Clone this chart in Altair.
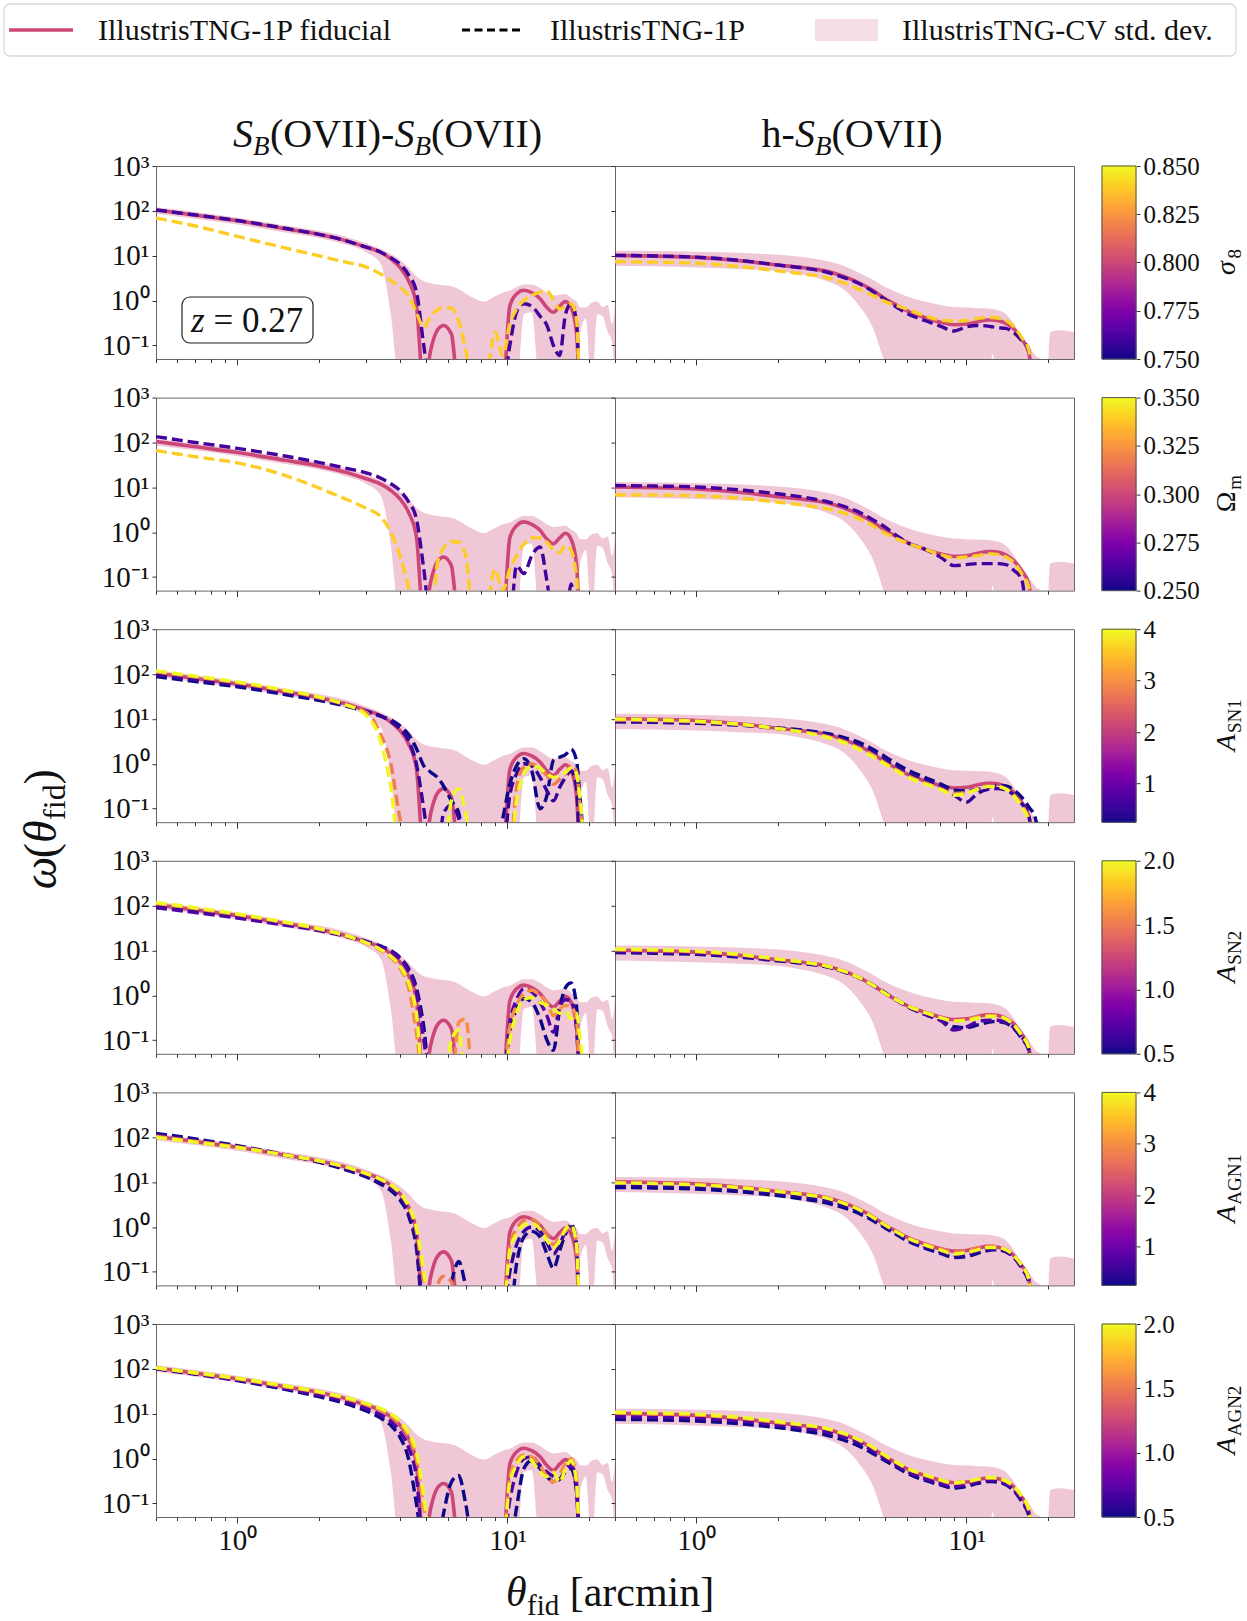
import altair as alt
import pandas as pd

B = 0.01  # value below the plotted range (correlation vanishing / negative)

# ---------------- angular grids (arcmin) ----------------
L_X = [0.5, 0.7, 1.0, 1.5, 2.0, 2.5, 3.0, 3.4, 3.7, 4.0,
       4.3, 4.6, 4.9, 5.2, 5.5, 5.8, 6.2, 6.6, 7.0, 7.5,
       8.2, 9.0, 9.6, 10.2, 10.8, 11.5, 12.3, 13.2, 14.0, 14.8,
       15.6, 16.4, 17.2, 18.0, 18.6, 19.5, 20.5, 21.5, 22.5, 23.5,
       24.4, 25.0]
R_X = [0.5, 0.7, 1.0, 1.5, 2.0, 2.5, 3.0, 3.5, 4.0, 4.5,
       5.0, 5.5, 6.0, 7.0, 8.0, 9.0, 10.0, 11.0, 12.0, 12.5,
       13.0, 14.0, 15.0, 16.0, 17.0, 18.0, 19.0, 19.8, 20.4, 22.0,
       25.0]

# ---------------- S_B - S_B (left column) ----------------
FID_L = [105, 80, 60, 40, 30, 22, 15.5, 11.8, 8.5, 5.5,
         2.8, 0.8, B, 0.08, 0.22, 0.28, 0.18, B, B, B,
         B, B, B, 0.75, 1.4, 1.7, 1.5, 1.1, 0.7, 0.55,
         0.75, 0.95, 0.7, 0.2, B, B, B, B, B, B,
         B, B]
BAND_L_HI = [120, 94, 70, 47, 36, 27, 19, 14, 11, 8,
             5.5, 3.5, 2.7, 2.45, 2.3, 2.2, 2.1, 1.8, 1.45, 1.15,
             0.95, 1.25, 1.5, 1.65, 2.0, 2.3, 2.3, 1.9, 1.5, 1.3,
             1.35, 1.4, 1.15, 0.95, 0.7, 0.7, 0.9, 0.95, 0.72, 0.8,
             0.3, 0.85]
BAND_L_LO = [86, 67, 50, 33, 25, 18, 12, 6.5, 0.5, B,
             B, B, B, B, B, B, B, B, B, B,
             B, B, B, B, B, 0.5, 0.55, B, B, B,
             B, B, B, B, 0.2, 0.4, B, 0.5, 0.45, 0.2,
             0.12, B]

S8_L_076 = [105, 81, 61, 41, 30, 22, 15.5, 12, 9, 6.5,
            3.8, 1.6, 0.1, B, B, B, B, B, B, B,
            B, B, B, 0.1, 0.55, 0.85, 0.75, 0.45, 0.28, 0.1,
            0.06, 0.5, 0.85, 0.35, B, B, B, B, B, B,
            B, B]
S8_L_084 = [69, 46, 27, 15, 10, 7.3, 5.6, 3.9, 2.8, 2.0,
            1.3, 0.55, 0.25, 0.45, 0.62, 0.7, 0.68, 0.35, 0.08, B,
            B, 0.2, 0.06, 0.3, 0.65, 1.0, 1.3, 1.55, 1.6, 1.05,
            0.65, 0.75, 0.85, 0.4, B, B, B, B, B, B,
            B, B]
OM_L_026 = [135, 100, 74, 50, 36, 27, 21, 16, 12, 8.5,
            4.8, 2.0, 0.15, B, B, B, B, B, B, B,
            B, B, B, B, 0.18, 0.12, 0.3, 0.47, 0.08, B,
            B, B, 0.07, B, B, B, B, B, B, B,
            B, B]
OM_L_034 = [66, 48, 35, 18.5, 9.7, 5.6, 3.4, 2.2, 1.0, 0.3,
            0.06, B, B, B, 0.2, 0.45, 0.62, 0.6, 0.3, B,
            B, 0.15, 0.05, 0.15, 0.3, 0.55, 0.75, 0.75, 0.6, 0.4,
            0.35, 0.5, 0.4, 0.1, B, B, B, B, B, B,
            B, B]
SN1_L_025 = [88, 68, 52, 35, 26, 19.5, 14.5, 11.5, 9.5, 7.0,
             4.5, 2.2, 0.9, 0.65, 0.5, 0.32, 0.15, 0.08, B, B,
             B, B, 0.06, 0.35, 0.9, 1.3, 0.7, 0.1, 0.2, 1.2,
             1.4, 1.6, 2.1, 1.2, 0.15, B, B, B, B, B,
             B, B]
SN1_L_05 = [95, 74, 56, 38, 28, 20.5, 15, 11.5, 8.8, 6.0,
            3.3, 1.0, 0.1, B, B, 0.08, 0.12, 0.06, B, B,
            B, B, B, 0.2, 0.6, 1.0, 0.9, 0.5, 0.25, 0.15,
            0.3, 0.5, 0.7, 0.3, B, B, B, B, B, B,
            B, B]
SN1_L_28 = [112, 86, 64, 42, 30, 21, 14, 4.5, 1.0, 0.06,
            B, B, B, B, B, B, B, B, B, B,
            B, B, B, B, 0.3, 0.85, 1.0, 0.75, 0.55, 0.35,
            0.45, 0.6, 0.9, 0.7, 0.1, B, B, B, B, B,
            B, B]
SN1_L_4 = [118, 90, 67, 44, 31, 21, 12, 3.0, 0.3, B,
           B, B, B, B, B, B, 0.15, 0.28, 0.08, B,
           B, B, B, B, 0.15, 0.6, 0.9, 0.8, 0.6, 0.5,
           0.55, 0.65, 0.8, 0.6, 0.15, B, B, B, B, B,
           B, B]
SN2_L_05 = [95, 74, 56, 38, 29, 21.5, 16, 12.5, 10, 7,
            4, 1.5, 0.2, B, B, B, B, B, B, B,
            B, B, B, 0.15, 0.5, 0.85, 0.7, 0.3, 0.1, 0.06,
            0.5, 1.5, 1.9, 0.6, B, B, B, B, B, B,
            B, B]
SN2_L_07 = [90, 70, 53, 37, 28, 21, 15.5, 12, 9.5, 6.5,
            3.5, 1.2, 0.1, B, B, B, B, B, B, B,
            B, B, B, 0.25, 0.8, 1.4, 1.2, 0.7, 0.35, 0.15,
            0.55, 0.8, 0.75, 0.2, B, B, B, B, B, B,
            B, B]
SN2_L_16 = [112, 86, 63, 42, 30, 21.5, 14.5, 10, 7.0, 4.0,
            1.5, 0.15, B, B, B, B, B, 0.25, 0.3, B,
            B, B, B, 0.2, 0.6, 1.1, 1.3, 1.0, 0.7, 0.35,
            0.5, 0.6, 0.55, 0.3, B, B, B, B, B, B,
            B, B]
SN2_L_2 = [118, 90, 66, 43, 31, 22, 15, 10.5, 7.5, 4.5,
           2.0, 0.4, B, B, B, B, 0.1, 0.17, B, B,
           B, B, B, 0.1, 0.4, 0.8, 0.9, 0.7, 0.6, 0.5,
           0.4, 0.45, 0.3, 0.4, 0.1, B, B, B, B, B,
           B, B]
AGN1_L_025 = [122, 92, 65, 41, 28, 19, 13, 9.0, 6.5, 4.0,
              1.8, 0.35, B, B, B, B, 0.06, 0.17, 0.05, B,
              B, B, B, B, 0.15, 0.6, 0.8, 0.6, 0.25, 0.12,
              0.3, 0.7, 1.2, 0.4, B, B, B, B, B, B,
              B, B]
AGN1_L_05 = [115, 87, 62, 40, 28.5, 20, 13.5, 10, 7.3, 4.6,
             2.2, 0.5, B, B, B, B, B, B, B, B,
             B, B, B, 0.1, 0.4, 0.8, 1.0, 0.8, 0.45, 0.25,
             0.4, 0.8, 1.0, 0.4, B, B, B, B, B, B,
             B, B]
AGN1_L_28 = [106, 81, 61, 41, 30, 22, 15.5, 11.5, 8.5, 5.5,
             2.8, 0.8, 0.06, B, 0.05, 0.08, 0.06, B, B, B,
             B, B, B, 0.4, 0.9, 1.4, 1.5, 1.1, 0.7, 0.4,
             0.6, 0.8, 1.0, 0.5, B, B, B, B, B, B,
             B, B]
AGN1_L_4 = [100, 78, 59, 40, 30, 22, 15.5, 11.5, 8.8, 5.8,
            3.0, 1.0, 0.1, B, B, B, B, B, B, B,
            B, B, B, 0.3, 0.7, 1.1, 1.2, 0.9, 0.5, 0.35,
            0.5, 0.9, 1.1, 0.4, B, B, B, B, B, B,
            B, B]
AGN2_L_05 = [100, 76, 55, 35, 24, 17, 11.5, 8, 5.5, 3.0,
             1.0, 0.1, B, B, B, 0.06, 0.3, 0.42, 0.1, B,
             B, B, B, B, 0.08, 0.6, 0.9, 0.6, 0.4, 0.3,
             0.35, 0.5, 0.6, 0.2, B, B, B, B, B, B,
             B, B]
AGN2_L_07 = [102, 78, 57, 37, 26, 19, 13, 9.5, 6.8, 4.0,
             1.8, 0.4, B, B, B, B, B, B, B, B,
             B, B, B, 0.12, 0.5, 1.0, 1.1, 0.7, 0.5, 0.4,
             0.35, 0.6, 0.7, 0.3, B, B, B, B, B, B,
             B, B]
AGN2_L_16 = [105, 80, 60, 40, 30, 22, 16, 12, 9.0, 6.0,
             3.2, 1.0, 0.08, B, B, B, B, B, B, B,
             B, B, B, 0.4, 0.9, 1.2, 1.1, 0.7, 0.4, 0.3,
             0.45, 0.8, 1.0, 0.4, B, B, B, B, B, B,
             B, B]
AGN2_L_2 = [106, 82, 62, 42, 31, 23, 17, 13, 10, 6.8,
            3.8, 1.4, 0.15, B, B, B, B, B, B, B,
            B, B, B, 0.3, 0.7, 1.1, 0.9, 0.5, 0.4, 0.5,
            0.3, 0.6, 0.9, 0.3, B, B, B, B, B, B,
            B, B]

# ---------------- h - S_B (right column) ----------------
FID_R = [10.2, 9.8, 9.2, 7.6, 6.2, 5.4, 4.6, 3.5, 2.5, 1.7,
         1.1, 0.8, 0.6, 0.42, 0.33, 0.29, 0.3, 0.34, 0.37, 0.37,
         0.36, 0.31, 0.23, 0.14, 0.07, B, B, B, B, B,
         B]
BAND_R_HI = [13, 12.8, 12.3, 11.5, 10.5, 9.2, 7.7, 6.0, 4.2, 2.9,
             2.0, 1.55, 1.25, 0.95, 0.8, 0.72, 0.7, 0.68, 0.67, 0.65,
             0.62, 0.5, 0.3, 0.15, 0.1, 0.06, 0.048, B, 0.2, 0.22,
             0.2]
BAND_R_LO = [6.0, 5.8, 5.5, 5.0, 4.6, 3.7, 2.8, 1.8, 0.78, 0.25,
             0.04, B, B, B, B, B, B, B, B, 0.065,
             B, B, B, B, B, B, B, B, B, B,
             B]

S8_R_076 = [10.2, 9.9, 9.3, 7.7, 6.2, 5.3, 4.4, 3.3, 2.4, 1.6,
            1.05, 0.72, 0.52, 0.36, 0.27, 0.21, 0.26, 0.28, 0.27, 0.26,
            0.25, 0.24, 0.19, 0.13, 0.08, B, B, B, B, B,
            B]
S8_R_084 = [7.4, 7.2, 6.8, 5.6, 4.6, 3.9, 3.3, 2.5, 1.8, 1.3,
            0.95, 0.78, 0.65, 0.46, 0.37, 0.35, 0.36, 0.4, 0.42, 0.42,
            0.41, 0.36, 0.26, 0.15, 0.08, B, B, B, B, B,
            B]
OM_R_026 = [11, 10.7, 10.2, 8.6, 7.2, 6.0, 4.9, 3.8, 2.8, 1.9,
            1.3, 0.85, 0.6, 0.42, 0.28, 0.18, 0.19, 0.2, 0.2, 0.2,
            0.2, 0.19, 0.14, 0.09, B, B, B, B, B, B,
            B]
OM_R_034 = [6.8, 6.7, 6.5, 5.6, 4.7, 4.0, 3.4, 2.7, 2.0, 1.4,
            0.95, 0.72, 0.58, 0.42, 0.32, 0.27, 0.28, 0.3, 0.33, 0.33,
            0.32, 0.28, 0.21, 0.12, 0.06, B, B, B, B, B,
            B]
SN1_R_025 = [8.6, 8.4, 8.0, 7.2, 6.3, 5.6, 4.8, 3.9, 3.0, 2.1,
             1.45, 1.0, 0.75, 0.5, 0.36, 0.26, 0.25, 0.27, 0.3, 0.32,
             0.33, 0.32, 0.26, 0.18, 0.11, 0.06, B, B, B, B,
             B]
SN1_R_05 = [9.0, 8.7, 8.2, 7.2, 6.1, 5.2, 4.4, 3.5, 2.6, 1.8,
            1.2, 0.85, 0.62, 0.42, 0.3, 0.2, 0.14, 0.22, 0.27, 0.28,
            0.28, 0.26, 0.2, 0.13, 0.07, B, B, B, B, B,
            B]
SN1_R_28 = [9.5, 9.2, 8.6, 7.4, 6.1, 5.1, 4.2, 3.2, 2.3, 1.6,
            1.05, 0.75, 0.56, 0.38, 0.28, 0.22, 0.23, 0.28, 0.32, 0.32,
            0.32, 0.28, 0.2, 0.12, 0.06, B, B, B, B, B,
            B]
SN1_R_4 = [10, 9.6, 8.9, 7.5, 6.1, 5.0, 4.0, 3.0, 2.1, 1.45,
           0.98, 0.7, 0.52, 0.36, 0.27, 0.2, 0.22, 0.27, 0.31, 0.31,
           0.31, 0.27, 0.19, 0.11, 0.055, B, B, B, B, B,
           B]
SN2_R_05 = [9.0, 8.7, 8.2, 7.0, 5.9, 5.1, 4.4, 3.4, 2.5, 1.7,
            1.15, 0.8, 0.58, 0.38, 0.28, 0.2, 0.19, 0.22, 0.25, 0.26,
            0.26, 0.24, 0.18, 0.11, 0.06, B, B, B, B, B,
            B]
SN2_R_07 = [9.5, 9.2, 8.7, 7.3, 6.1, 5.3, 4.5, 3.4, 2.45, 1.65,
            1.1, 0.78, 0.57, 0.38, 0.28, 0.17, 0.2, 0.26, 0.28, 0.28,
            0.28, 0.25, 0.19, 0.12, 0.06, B, B, B, B, B,
            B]
SN2_R_16 = [10.4, 10, 9.4, 7.8, 6.4, 5.5, 4.6, 3.5, 2.5, 1.7,
            1.1, 0.8, 0.6, 0.42, 0.32, 0.27, 0.29, 0.33, 0.36, 0.36,
            0.35, 0.3, 0.22, 0.13, 0.07, B, B, B, B, B,
            B]
SN2_R_2 = [10.8, 10.4, 9.7, 8.0, 6.5, 5.5, 4.6, 3.5, 2.5, 1.7,
           1.1, 0.8, 0.6, 0.42, 0.32, 0.27, 0.28, 0.31, 0.34, 0.34,
           0.34, 0.3, 0.22, 0.13, 0.07, B, B, B, B, B,
           B]
AGN1_R_025 = [7.6, 7.4, 7.0, 6.0, 5.0, 4.2, 3.5, 2.7, 2.0, 1.4,
              0.95, 0.68, 0.5, 0.34, 0.26, 0.21, 0.22, 0.26, 0.3, 0.31,
              0.31, 0.28, 0.21, 0.13, 0.07, B, B, B, B, B,
              B]
AGN1_R_05 = [8.8, 8.5, 8.0, 6.9, 5.7, 4.9, 4.1, 3.1, 2.3, 1.55,
             1.05, 0.75, 0.55, 0.37, 0.28, 0.23, 0.24, 0.28, 0.32, 0.32,
             0.32, 0.28, 0.21, 0.12, 0.06, B, B, B, B, B,
             B]
AGN1_R_28 = [10, 9.6, 9.0, 7.6, 6.3, 5.4, 4.6, 3.5, 2.5, 1.7,
             1.12, 0.8, 0.6, 0.42, 0.33, 0.28, 0.3, 0.34, 0.37, 0.37,
             0.36, 0.31, 0.23, 0.14, 0.07, B, B, B, B, B,
             B]
AGN1_R_4 = [9.6, 9.3, 8.7, 7.4, 6.2, 5.3, 4.5, 3.4, 2.45, 1.65,
            1.1, 0.78, 0.58, 0.4, 0.31, 0.25, 0.27, 0.31, 0.35, 0.35,
            0.35, 0.31, 0.23, 0.14, 0.07, B, B, B, B, B,
            B]
AGN2_R_05 = [7.5, 7.3, 6.9, 5.9, 4.9, 4.1, 3.4, 2.6, 1.9, 1.3,
             0.9, 0.65, 0.48, 0.33, 0.26, 0.22, 0.24, 0.28, 0.31, 0.31,
             0.3, 0.26, 0.19, 0.11, 0.055, B, B, B, B, B,
             B]
AGN2_R_07 = [8.7, 8.4, 7.9, 6.8, 5.6, 4.8, 4.0, 3.1, 2.25, 1.5,
             1.0, 0.72, 0.53, 0.36, 0.28, 0.24, 0.26, 0.3, 0.33, 0.33,
             0.32, 0.28, 0.2, 0.12, 0.06, B, B, B, B, B,
             B]
AGN2_R_16 = [10.3, 9.9, 9.3, 7.8, 6.4, 5.5, 4.7, 3.6, 2.6, 1.75,
             1.15, 0.82, 0.61, 0.43, 0.33, 0.28, 0.3, 0.34, 0.37, 0.37,
             0.36, 0.31, 0.23, 0.14, 0.07, B, B, B, B, B,
             B]
AGN2_R_2 = [10.8, 10.4, 9.8, 8.2, 6.7, 5.7, 4.8, 3.7, 2.65, 1.8,
            1.18, 0.84, 0.62, 0.44, 0.34, 0.29, 0.31, 0.35, 0.38, 0.38,
            0.37, 0.32, 0.24, 0.15, 0.075, B, B, B, B, B,
            B]

# ---------------- parameters per row ----------------
ROW_PARAMS = [[0.76, 0.84], [0.26, 0.34], [0.25, 0.5, 2.8, 4.0],
              [0.5, 0.7, 1.6, 2.0], [0.25, 0.5, 2.8, 4.0], [0.5, 0.7, 1.6, 2.0]]
ROW_DOMAINS = [[0.75, 0.85], [0.25, 0.35], [0.25, 4.0], [0.5, 2.0], [0.25, 4.0], [0.5, 2.0]]
ROW_TICKS = [[0.75, 0.775, 0.8, 0.825, 0.85], [0.25, 0.275, 0.3, 0.325, 0.35],
             [1, 2, 3, 4], [0.5, 1.0, 1.5, 2.0], [1, 2, 3, 4], [0.5, 1.0, 1.5, 2.0]]
ROW_FORMATS = [".3f", ".3f", "d", ".1f", "d", ".1f"]
ROW_LEFT = [[S8_L_076, S8_L_084], [OM_L_026, OM_L_034],
            [SN1_L_025, SN1_L_05, SN1_L_28, SN1_L_4],
            [SN2_L_05, SN2_L_07, SN2_L_16, SN2_L_2],
            [AGN1_L_025, AGN1_L_05, AGN1_L_28, AGN1_L_4],
            [AGN2_L_05, AGN2_L_07, AGN2_L_16, AGN2_L_2]]
ROW_RIGHT = [[S8_R_076, S8_R_084], [OM_R_026, OM_R_034],
             [SN1_R_025, SN1_R_05, SN1_R_28, SN1_R_4],
             [SN2_R_05, SN2_R_07, SN2_R_16, SN2_R_2],
             [AGN1_R_025, AGN1_R_05, AGN1_R_28, AGN1_R_4],
             [AGN2_R_05, AGN2_R_07, AGN2_R_16, AGN2_R_2]]
# colour-bar labels: (main symbol, style, subscript)
ROW_LABELS = [("σ", "italic", "8"), ("Ω", "normal", "m"), ("A", "italic", "SN1"),
              ("A", "italic", "SN2"), ("A", "italic", "AGN1"), ("A", "italic", "AGN2")]

# ---------------- style ----------------
SERIF = "Liberation Serif"
PINK = "#cc4778"
W, H = 459, 193
CB_GAP, CB_W = 28, 34          # colour-bar offset from the panel and its thickness
CB_STEPS = 96                  # number of slices used to paint each colour bar
XSCALE = alt.Scale(type="log", domain=[0.5, 25], nice=False)
YSCALE = alt.Scale(type="log", domain=[0.05, 1000], nice=False)
X_TICKS = [0.5, 0.6, 0.7, 0.8, 0.9, 1, 2, 3, 4, 5, 6, 7, 8, 9, 10, 20]
Y_TICKS = [0.1, 1, 10, 100, 1000]
ONE = pd.DataFrame({"v": [0]})


def x_axis(show):
    return alt.Axis(values=X_TICKS, title=None, grid=False, domain=False, labels=show,
                    labelExpr="datum.value == 1 ? '10⁰' : datum.value == 10 ? '10¹' : ''",
                    tickSize={"condition": {"test": "datum.value == 1 || datum.value == 10", "value": 6},
                              "value": 3.5},
                    labelFontSize=29, labelPadding=3, labelFlush=False, labelOverlap=False)


def y_axis(show):
    return alt.Axis(values=Y_TICKS, title=None, grid=False, domain=False, labels=show,
                    labelExpr="datum.value > 500 ? '10³' : datum.value > 50 ? '10²' : "
                              "datum.value > 5 ? '10¹' : datum.value > 0.5 ? '10⁰' : '10⁻¹'",
                    tickSize=4, labelFontSize=29, labelPadding=3, labelOverlap=False)


def txt(s, x, y, size, style="normal", align="left", angle=0, baseline="alphabetic"):
    return alt.Chart(ONE).mark_text(text=s, align=align, baseline=baseline, font=SERIF,
                                    fontSize=size, fontStyle=style, angle=angle,
                                    color="#111").encode(x=alt.value(x), y=alt.value(y))


def hline(x1, x2, y, color, width, dash=None):
    kw = dict(color=color, strokeWidth=width)
    if dash:
        kw["strokeDash"] = dash
    return alt.Chart(ONE).mark_rule(**kw).encode(x=alt.value(x1), x2=alt.value(x2), y=alt.value(y))


def box(x1, x2, y1, y2, **kw):
    return alt.Chart(ONE).mark_rect(**kw).encode(x=alt.value(x1), x2=alt.value(x2),
                                                 y=alt.value(y1), y2=alt.value(y2))


def panel(xs, fid, lo, hi, curves, params, dom, xlab, ylab, extras):
    for arr in [fid, lo, hi] + list(curves):
        assert len(arr) == len(xs)
    band_df = pd.DataFrame({"x": xs, "lo": lo, "hi": hi})
    fid_df = pd.DataFrame({"x": xs, "y": fid})
    recs = []
    for k, (ys, p) in enumerate(zip(curves, params)):
        for x, y in zip(xs, ys):
            recs.append({"x": x, "y": y, "p": p, "k": k})
    cdf = pd.DataFrame(recs)
    X = alt.X("x:Q", scale=XSCALE, axis=x_axis(xlab))
    band = alt.Chart(band_df).mark_area(color=PINK, opacity=0.3, clip=True,
                                        interpolate="monotone").encode(
        x=X, y=alt.Y("lo:Q", scale=YSCALE, axis=y_axis(ylab)), y2="hi:Q")
    fline = alt.Chart(fid_df).mark_line(color=PINK, strokeWidth=3.6, clip=True,
                                        interpolate="monotone").encode(
        x=X, y=alt.Y("y:Q", scale=YSCALE, axis=y_axis(ylab)))
    dash = alt.Chart(cdf).mark_line(strokeDash=[11, 5], strokeWidth=3.4, clip=True,
                                    interpolate="monotone").encode(
        x=X, y=alt.Y("y:Q", scale=YSCALE, axis=y_axis(ylab)),
        color=alt.Color("p:Q", scale=alt.Scale(scheme="plasma", domain=dom), legend=None),
        detail="k:N")
    return alt.layer(band, fline, dash, *extras).properties(width=W, height=H)


def colorbar(dom, ticks, fmt, label):
    lo_v, hi_v = dom
    step = (hi_v - lo_v) / CB_STEPS
    cb = pd.DataFrame({"a": [lo_v + j * step for j in range(CB_STEPS)],
                       "b": [lo_v + (j + 1) * step for j in range(CB_STEPS)]})
    cb["m"] = (cb["a"] + cb["b"]) / 2
    ysc = alt.Scale(domain=dom, nice=False, zero=False)
    cscale = alt.Scale(scheme="plasma", domain=dom)
    bar = alt.Chart(cb).mark_rect(strokeWidth=1).encode(
        x=alt.value(CB_GAP), x2=alt.value(CB_GAP + CB_W),
        y=alt.Y("a:Q", scale=ysc,
                axis=alt.Axis(orient="right", values=ticks, format=fmt, title=None,
                              grid=False, domain=False, tickSize=4, labelPadding=3,
                              labelFontSize=25, labelFont=SERIF, labelFlush=False,
                              labelOverlap=False)),
        y2="b:Q",
        color=alt.Color("m:Q", scale=cscale, legend=None),
        stroke=alt.Stroke("m:Q", scale=cscale, legend=None))
    frame = box(CB_GAP, CB_GAP + CB_W, 0, H, fill="transparent", stroke="#555",
                strokeWidth=1)
    main, style, sub = label
    mw = {"σ": 15.5, "Ω": 21.6, "A": 17.1}[main]
    sw = {"8": 9.5, "m": 14.8, "SN1": 33.8, "SN2": 33.8, "AGN1": 50.7, "AGN2": 50.7}[sub]
    y0 = H / 2 + (mw + sw) / 2
    title = [txt(main, 161, y0, 28, style=style, angle=270),
             txt(sub, 167, y0 - mw - 1, 19, angle=270)]
    return alt.layer(bar, frame, *title).properties(
        width=CB_GAP + CB_W, height=H,
        view=alt.ViewBackground(strokeOpacity=0, strokeWidth=0))


# ---------------- annotations ----------------
top_legend = [
    box(-152, 1080, -162, -110, fill="white", stroke="#d9d9d9", strokeWidth=1.3, cornerRadius=6),
    hline(-147, -83, -136, PINK, 3.5),
    txt("IllustrisTNG-1P fiducial", -58, -126, 30),
    hline(306, 368, -136, "#000", 3, dash=[8, 4.5]),
    txt("IllustrisTNG-1P", 394, -126, 30),
    box(659, 722, -147, -125, fill=PINK, opacity=0.18),
    txt("IllustrisTNG-CV std. dev.", 746, -126, 30),
]
title_left = [
    txt("S", 77, -19, 40, style="italic"),
    txt("B", 97, -11, 27, style="italic"),
    txt("(OVII)-", 114, -19, 40),
    txt("S", 238.4, -19, 40, style="italic"),
    txt("B", 258.4, -11, 27, style="italic"),
    txt("(OVII)", 275, -19, 40),
]
title_right = [
    txt("h-", 146.6, -19, 40),
    txt("S", 180, -19, 40, style="italic"),
    txt("B", 200, -11, 27, style="italic"),
    txt("(OVII)", 216.5, -19, 40),
]
zbox = [
    box(26, 157, 131, 177, fill="white", stroke="#222", strokeWidth=1.2, cornerRadius=8),
    txt("z", 35, 165.5, 35, style="italic"),
    txt("= 0.27", 57.4, 165.5, 35),
]
y_title = [
    txt("ω", -100, 260, 46, style="italic", angle=270),
    txt("(", -100, 229, 46, angle=270),
    txt("θ", -100, 213.7, 46, style="italic", angle=270),
    txt("fid", -91, 190.7, 32, angle=270),
    txt(")", -100, 155.2, 46, angle=270),
]
x_title = [
    txt("θ", 350, 282, 42, style="italic"),
    txt("fid", 371, 291, 29),
    txt("[arcmin]", 413.7, 282, 42),
]

cells = []
for i in range(6):
    left_extra, right_extra = [], []
    if i == 0:
        left_extra = top_legend + title_left + zbox
        right_extra = title_right
    if i == 2:
        left_extra = left_extra + y_title
    if i == 5:
        left_extra = left_extra + x_title
    cells.append(panel(L_X, FID_L, BAND_L_LO, BAND_L_HI, ROW_LEFT[i], ROW_PARAMS[i],
                       ROW_DOMAINS[i], i == 5, True, left_extra))
    cells.append(panel(R_X, FID_R, BAND_R_LO, BAND_R_HI, ROW_RIGHT[i], ROW_PARAMS[i],
                       ROW_DOMAINS[i], i == 5, False, right_extra))
    cells.append(colorbar(ROW_DOMAINS[i], ROW_TICKS[i], ROW_FORMATS[i], ROW_LABELS[i]))

chart = alt.concat(*cells, columns=3, spacing={"row": 38.6, "column": 0},
                   bounds="flush").resolve_scale(
    x="independent", y="independent", color="independent", stroke="independent"
).properties(
    padding={"left": 2, "top": 2, "right": 2, "bottom": 0}
).configure_view(
    stroke="#666", strokeWidth=1
).configure_axis(
    labelFont=SERIF, labelColor="#111", tickColor="#333", tickWidth=1
)

chart.save("out.html", embed_options={"renderer": "svg", "actions": False})
